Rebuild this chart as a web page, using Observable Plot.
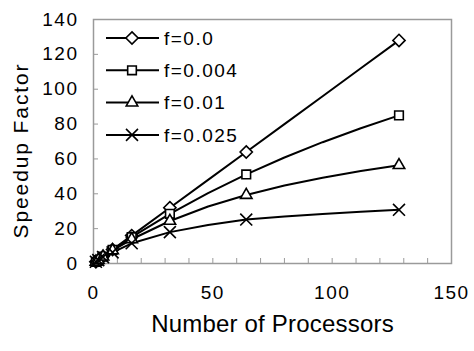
<!DOCTYPE html>
<html>
<head>
<meta charset="utf-8">
<script src="https://cdn.jsdelivr.net/npm/d3@7"></script>
<script src="https://cdn.jsdelivr.net/npm/@observablehq/plot@0.6"></script>
<style>
  html, body { margin: 0; padding: 0; background: #fff; }
  #chart { position: relative; width: 474px; height: 351px; }
</style>
</head>
<body>
<div id="chart"></div>
<script>
// Processor counts used for the curves
const processors = [1, 2, 4, 8, 16, 32, 48, 64, 80, 96, 112, 128];
// Processor counts that carry a marker
const markedProcessors = [1, 2, 4, 8, 16, 32, 64, 128];
// Series labels
const seriesNames = ["f=0.0", "f=0.004", "f=0.01", "f=0.025"];
// Speedup values per series
const speedupF0 = [1, 2, 4, 8, 16, 32, 48, 64, 80, 96, 112, 128];
const speedupF004 = [1, 1.99, 3.95, 7.8, 15.1, 28.5, 40.4, 51.1, 60.8, 69.6, 77.6, 85];
const speedupF01 = [1, 1.98, 3.88, 7.5, 13.9, 24.4, 32.7, 39.3, 44.7, 49.2, 53.1, 56.4];
const speedupF025 = [1, 1.95, 3.66, 6.4, 11.6, 18.0, 22.1, 25.2, 26.9, 28.4, 29.7, 30.8];
const seriesValues = [speedupF0, speedupF004, speedupF01, speedupF025];
// Tick labels
const xTicks = [0, 50, 100, 150];
const xMinorTicks = d3.range(0, 151, 10);
const yTicks = [0, 20, 40, 60, 80, 100, 120, 140];

const symbols = ["diamond2", "square2", "triangle2", "times"];

const rows = [];
seriesNames.forEach((name, i) => {
  processors.forEach((n, j) => {
    rows.push({series: name, n, speedup: seriesValues[i][j], marked: markedProcessors.includes(n), symbol: symbols[i]});
  });
});

const font = "'Liberation Sans', Arial, sans-serif";

const plot = Plot.plot({
  width: 474,
  height: 351,
  marginLeft: 93,
  marginRight: 23,
  marginTop: 19,
  marginBottom: 88,
  style: {fontFamily: font, fontSize: "19px", background: "#fff", color: "#000", letterSpacing: "1.5px"},
  x: {domain: [0, 150]},
  y: {domain: [0, 140]},
  marks: [
    Plot.frame({stroke: "#9a9a9a", strokeWidth: 1.5}),
    Plot.axisX({ticks: xMinorTicks, tickSize: -5, stroke: "#9a9a9a", text: null, label: null}),
    Plot.axisX({ticks: xTicks, tickSize: 0, tickPadding: 22, label: null, fill: "#000"}),
    Plot.axisY({ticks: yTicks, tickSize: -5, stroke: "#9a9a9a", tickPadding: 20, label: null, fill: "#000"}),
    Plot.line(rows, {x: "n", y: "speedup", z: "series", stroke: "#000", strokeWidth: 2}),
    Plot.dot(rows.filter(d => d.marked), {x: "n", y: "speedup", symbol: "symbol", r: 5.5, stroke: "#000", strokeWidth: 1.6, fill: "#fff"}),
    Plot.text(["Number of Processors"], {frameAnchor: "bottom", lineAnchor: "middle", dy: 61, text: d => d, fontSize: 24, fill: "#000"}),
    Plot.text(["Speedup Factor"], {frameAnchor: "left", lineAnchor: "middle", dx: -72, dy: 9, rotate: -90, textAnchor: "middle", text: d => d, fontSize: 21, fill: "#000"})
  ]
});

document.getElementById("chart").appendChild(plot);

// Per-title letter spacing
d3.select(plot).selectAll("text").filter(function() { return this.textContent === "Number of Processors"; })
  .attr("letter-spacing", "0.2px");
d3.select(plot).selectAll("text").filter(function() { return this.textContent === "Speedup Factor"; })
  .attr("letter-spacing", "1.9px");

// Legend inside the plot area
const svg = d3.select(plot);
const lg = svg.append("g").attr("transform", "translate(106,38)").attr("text-anchor", "start");
const symMap = {diamond2: d3.symbolDiamond2, square2: d3.symbolSquare2, triangle2: d3.symbolTriangle2, times: d3.symbolTimes};
seriesNames.forEach((name, i) => {
  const g = lg.append("g").attr("transform", `translate(0,${i * 32.3})`);
  g.append("line").attr("x1", 0).attr("x2", 53).attr("y1", 0).attr("y2", 0).attr("stroke", "#000").attr("stroke-width", 2);
  g.append("path").attr("transform", "translate(26,0)")
    .attr("d", d3.symbol(symMap[symbols[i]], 5.5 * 5.5 * Math.PI)())
    .attr("fill", "#fff").attr("stroke", "#000").attr("stroke-width", 1.6);
  g.append("text").attr("x", 58).attr("y", 0).attr("dy", "0.35em").attr("text-anchor", "start")
    .attr("font-family", font).attr("font-size", 19).attr("letter-spacing", "1.5px").text(name);
});
</script>
</body>
</html>
